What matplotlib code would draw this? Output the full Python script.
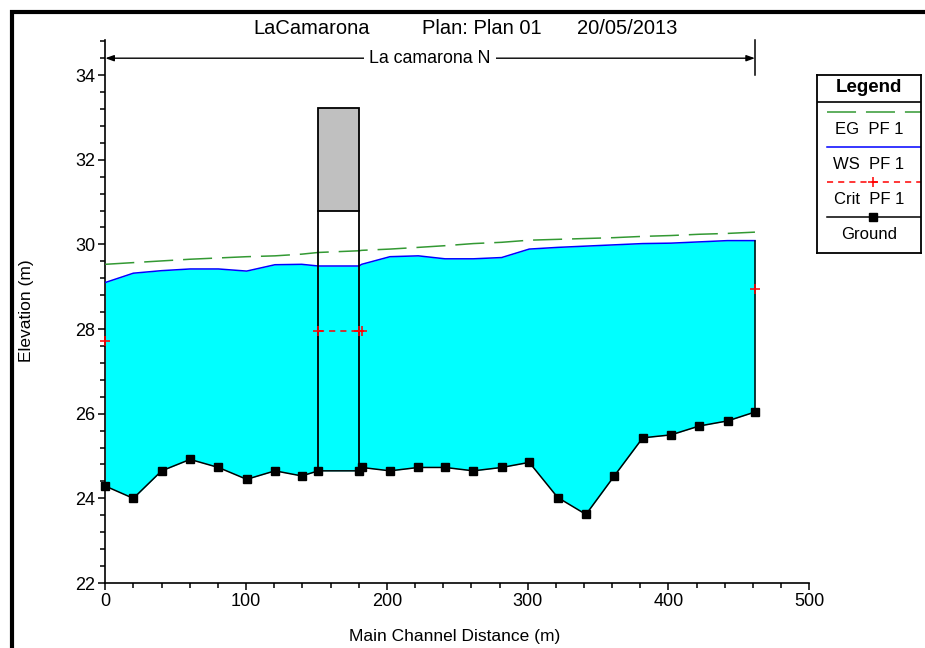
import matplotlib
matplotlib.use("Agg")
import matplotlib.pyplot as plt  # noqa: E402
from matplotlib.patches import Rectangle  # noqa: E402
import numpy as np  # noqa: E402

plt.rcParams["font.family"] = ["Liberation Sans", "DejaVu Sans"]

# main channel stations (m) and profile elevations (m) for profile PF 1
station = [0.0, 19.9, 40.0, 60.2, 80.3, 100.4, 120.5, 139.5, 151.3, 180.2, 182.1,
           202.2, 222.3, 241.3, 261.4, 281.5, 301.1, 321.3, 341.4, 361.5, 381.7,
           401.8, 421.9, 442.0, 461.4]
ground = [24.29, 24.00, 24.65, 24.92, 24.73, 24.45, 24.65, 24.53, 24.65, 24.65, 24.73,
          24.65, 24.73, 24.73, 24.65, 24.73, 24.85, 24.02, 23.62, 24.53, 25.43,
          25.50, 25.71, 25.83, 26.04]
ws = [29.10, 29.32, 29.38, 29.42, 29.42, 29.37, 29.52, 29.53, 29.49, 29.49, 29.53,
      29.71, 29.73, 29.66, 29.66, 29.69, 29.89, 29.93, 29.96, 29.99, 30.02,
      30.03, 30.06, 30.09, 30.09]
eg = [29.53, 29.57, 29.61, 29.65, 29.68, 29.71, 29.73, 29.77, 29.81, 29.85, 29.86,
      29.89, 29.93, 29.97, 30.02, 30.05, 30.10, 30.12, 30.14, 30.16, 30.19,
      30.21, 30.24, 30.26, 30.29]
nan = float("nan")
crit = [27.72, nan, nan, nan, nan, nan, nan, nan, 27.96, 27.96, 27.96,
        nan, nan, nan, nan, nan, nan, nan, nan, nan, nan,
        nan, nan, nan, 28.94]

# bridge faces (m) and deck chords (m)
bridge_sta = [151.3, 180.2]
low_chord = 30.79
high_chord = 33.23

reach_name = "La camarona N"
title_parts = ["LaCamarona", "Plan: Plan 01", "20/05/2013"]
legend_labels = ["EG  PF 1", "WS  PF 1", "Crit  PF 1", "Ground"]

EG_COLOR = "#339933"
WS_COLOR = "#0000ff"
CRIT_COLOR = "#ff0000"
WATER = "#00ffff"
DECK = "#c0c0c0"

W, H = 925, 648
fig = plt.figure(figsize=(W / 100, H / 100), dpi=100)


def fx(px):
    return px / W


def fy(py):
    return 1 - py / H


ax = fig.add_axes([fx(105.3), fy(583), fx(809.3) - fx(105.3), fy(40) - fy(583)])
ax.set_xlim(0, 500)
ax.set_ylim(22, 34.83)

sta = np.array(station)
ax.fill_between(sta, ground, ws, color=WATER, lw=0, zorder=1)
ax.plot(sta, eg, color=EG_COLOR, lw=1.1, ls=(0, (19, 6.5)), zorder=3)
ax.plot(sta, ws, color=WS_COLOR, lw=1.1, zorder=3)
ax.plot(sta, crit, color=CRIT_COLOR, lw=1.1, ls=(0, (4, 3.3)), marker="+",
        ms=7, mew=1.1, zorder=5, clip_on=False)
ax.plot(sta, ground, color="black", lw=1.1, marker="s", ms=5.8, zorder=6, clip_on=False)
ax.plot([station[-1], station[-1]], [ground[-1], ws[-1]], color="black", lw=1.1, zorder=4)

# bridge: deck between chords, faces down to the ground
b0, b1 = bridge_sta
ax.add_patch(Rectangle((b0, low_chord), b1 - b0, high_chord - low_chord,
                       facecolor=DECK, edgecolor="black", lw=1.3, zorder=4))
g0 = ground[station.index(b0)]
g1 = ground[station.index(b1)]
ax.plot([b0, b0], [g0, low_chord], color="black", lw=1.3, zorder=4)
ax.plot([b1, b1], [g1, low_chord], color="black", lw=1.3, zorder=4)

# reach bracket above the profile
ry = 34.4
ax.annotate("", xy=(0, ry), xytext=(station[-1], ry),
            arrowprops=dict(arrowstyle="<|-|>,head_length=0.5,head_width=0.18",
                            color="black", lw=1.0, shrinkA=0, shrinkB=0))
ax.plot([station[-1], station[-1]], [34.0, 34.83], color="black", lw=1.1, clip_on=False)
ax.text(station[-1] / 2, ry, reach_name, ha="center", va="center", fontsize=12.8,
        bbox=dict(facecolor="white", edgecolor="none", pad=4), zorder=7)

for s in ("top", "right"):
    ax.spines[s].set_visible(False)
for s in ("left", "bottom"):
    ax.spines[s].set_linewidth(1.2)
ax.set_xticks(np.arange(0, 501, 100))
ax.set_xticks(np.arange(0, 501, 20), minor=True)
ax.set_yticks(np.arange(22, 34.1, 2))
ax.set_yticks(np.arange(22, 34.9, 0.4), minor=True)
ax.tick_params(which="major", length=5, width=1.1, labelsize=13, pad=2)
ax.tick_params(which="minor", length=3.5, width=1.1)

fig.text(fx(454.5), fy(637), "Main Channel Distance (m)", ha="center", va="center", fontsize=12.5)
fig.text(fx(27), fy(311), "Elevation (m)", ha="center", va="center", rotation=90, fontsize=12.5)

title_x = [253, 422, 577]
for px, txt in zip(title_x, title_parts):
    fig.text(fx(px), fy(28), txt, ha="left", va="center", fontsize=14.5)

# legend box: header, then a line sample above each label
lg = fig.add_axes([fx(817), fy(253), fx(921) - fx(817), fy(75) - fy(253)])
lg.set_xlim(817, 921)
lg.set_ylim(253, 75)
lg.set_xticks([])
lg.set_yticks([])
for s in lg.spines.values():
    s.set_linewidth(1.3)
lg.text(869, 87, "Legend", ha="center", va="center", fontsize=13.5, fontweight="bold")
lg.plot([817, 921], [101.7, 101.7], color="black", lw=1.2)
row_y = [112, 147, 182, 217]
styles = [dict(color=EG_COLOR, ls=(0, (19, 6.5))),
          dict(color=WS_COLOR, ls="-"),
          dict(color=CRIT_COLOR, ls=(0, (4, 3.3))),
          dict(color="black", ls="-")]
for y, lab, st in zip(row_y, legend_labels, styles):
    lg.plot([826.5, 921], [y, y], lw=1.1, **st)
    lg.text(869, y + 17.5, lab, ha="center", va="center", fontsize=12)
lg.plot([873], [row_y[2]], marker="+", color=CRIT_COLOR, ms=7, mew=1.1)
lg.plot([873], [row_y[3]], marker="s", color="black", ms=5.8)

# outer window frame
fig.patches.append(Rectangle((fx(12), -0.1), 1.2, fy(12) + 0.1, transform=fig.transFigure,
                             fill=False, edgecolor="black", lw=3, clip_on=False))

fig.savefig("out.png", dpi=100)
